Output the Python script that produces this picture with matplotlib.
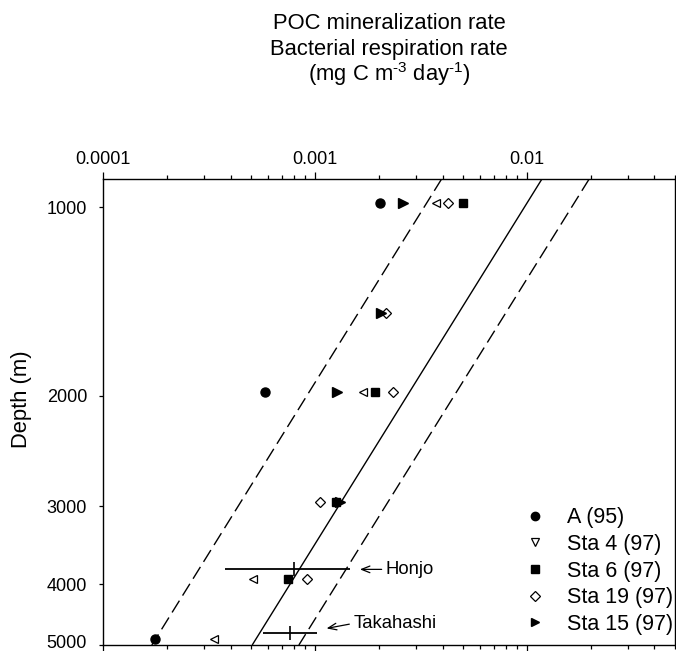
import matplotlib
matplotlib.use("Agg")
import matplotlib.pyplot as plt
from matplotlib.lines import Line2D
from matplotlib.transforms import ScaledTranslation
from matplotlib.ticker import FixedLocator, FixedFormatter, LogLocator, NullLocator, NullFormatter

plt.rcParams['font.family'] = ['Liberation Sans', 'DejaVu Sans']
plt.rcParams['mathtext.fontset'] = 'custom'
plt.rcParams['mathtext.rm'] = 'Liberation Sans'
plt.rcParams['mathtext.it'] = 'Liberation Sans:italic'

# ---------------- data ----------------
a95_rate = [0.00203, 0.000581, 0.000175]
a95_depth = [985, 1973, 4897]

sta4_rate = [0.00371, 0.00169, 0.000512, 0.000334]
sta4_depth = [985, 1973, 3925, 4897]

sta6_rate = [0.00501, 0.00192, 0.00126, 0.000744]
sta6_depth = [985, 1973, 2953, 3925]

sta19_rate = [0.00425, 0.00216, 0.00233, 0.00106, 0.000914]
sta19_depth = [985, 1477, 1973, 2953, 3925]

sta15_rate = [0.00261, 0.00205, 0.00127, 0.00131]
sta15_depth = [985, 1477, 1973, 2953]

# literature estimates (centre, min, max, depth)
honjo = dict(rate=0.000797, rmin=0.000376, rmax=0.00146, depth=3786)
takahashi = dict(rate=0.000762, rmin=0.000570, rmax=0.00102, depth=4782)

# model lines (end points on the log-log axes)
line_depth = [901, 5000]
line_solid = [0.01178, 0.000506]
line_dash_low = [0.00396, 0.000170]
line_dash_high = [0.01968, 0.000840]

x_ticks = [0.0001, 0.001, 0.01]
x_tick_labels = ['0.0001', '0.001', '0.01']
y_ticks = [1000, 2000, 3000, 4000, 5000]
y_tick_labels = ['1000', '2000', '3000', '4000', '5000']

# ---------------- figure ----------------
W, H = 676, 651
fig = plt.figure(figsize=(W / 100, H / 100), dpi=100)
ax = fig.add_axes([103 / W, 6 / H, 572 / W, 466 / H])
ax.set_xscale('log')
ax.set_yscale('log')
ax.set_xlim(1e-4, 5e-2)
ax.set_ylim(5000, 901)

lw = 1.0
ax.plot(line_solid, line_depth, color='k', lw=lw, solid_capstyle='butt')
ax.plot(line_dash_low, line_depth, color='k', lw=lw, linestyle=(0, (10, 4.3)))
ax.plot(line_dash_high, line_depth, color='k', lw=lw, linestyle=(0, (10, 4.3)))

mew = 0.9
ax.plot(a95_rate, a95_depth, 'o', ms=6.5, color='k', mec='k', linestyle='none')
ax.plot(sta4_rate, sta4_depth, '<', ms=6.0, mfc='white', mec='k', mew=mew, linestyle='none')
ax.plot(sta6_rate, sta6_depth, 's', ms=5.6, color='k', linestyle='none')
ax.plot(sta19_rate, sta19_depth, 'D', ms=5.4, mfc='white', mec='k', mew=mew, linestyle='none')
ax.plot(sta15_rate, sta15_depth, '>', ms=6.5, color='k', linestyle='none')

for d in (honjo, takahashi):
    ax.errorbar([d['rate']], [d['depth']],
                xerr=[[d['rate'] - d['rmin']], [d['rmax'] - d['rate']]],
                fmt='|', ms=9.5, mew=1.2, color='k', elinewidth=1.3, capsize=0)

arrow = dict(arrowstyle='->, head_length=0.45, head_width=0.18', color='k', lw=0.9,
             shrinkA=1, shrinkB=0, relpos=(0, 0.5))
ax.annotate('Honjo', xy=(0.00163, 3786), xytext=(0.00216, 3786),
            ha='left', va='center', fontsize=13.3, arrowprops=arrow)
ax.annotate('Takahashi', xy=(0.001135, 4704), xytext=(0.00152, 4618),
            ha='left', va='center', fontsize=13.3, arrowprops=arrow)

# axes styling
ax.xaxis.set_major_locator(FixedLocator(x_ticks))
ax.xaxis.set_major_formatter(FixedFormatter(x_tick_labels))
ax.xaxis.set_minor_locator(LogLocator(base=10, subs=[2, 3, 4, 5, 6, 7, 8, 9], numticks=20))
ax.xaxis.set_minor_formatter(NullFormatter())
ax.yaxis.set_major_locator(FixedLocator(y_ticks))
ax.yaxis.set_major_formatter(FixedFormatter(y_tick_labels))
ax.yaxis.set_minor_locator(NullLocator())

ax.tick_params(axis='x', which='both', top=True, bottom=True, labeltop=True, labelbottom=False,
               direction='out', width=0.9)
ax.tick_params(axis='x', which='major', length=5, pad=3, labelsize=13)
ax.tick_params(axis='x', which='minor', length=3)
ax.tick_params(axis='y', which='major', left=True, right=False, direction='out',
               length=3, width=0.9, pad=8.5, labelsize=13)
for s in ax.spines.values():
    s.set_linewidth(1.0)

# nudge the bottom tick label up a little so it stays inside the picture
fig.canvas.draw()
lab = ax.yaxis.get_majorticklabels()[-1]
lab.set_transform(lab.get_transform() + ScaledTranslation(0, 2.5 / 72, fig.dpi_scale_trans))

ax.set_ylabel('Depth (m)', fontsize=15.8, va='center')
ax.yaxis.set_label_coords(-0.142, 0.528)

# title (three lines above the top axis)
cx = 389 / W
fig.text(cx, 1 - 29 / H, 'POC mineralization rate', ha='center', va='baseline', fontsize=15.8)
fig.text(cx, 1 - 55 / H, 'Bacterial respiration rate', ha='center', va='baseline', fontsize=15.8)
fig.text(cx, 1 - 81 / H, r'(mg C m$^{\mathrm{\text{-}3}}$ day$^{\mathrm{\text{-}1}}$)',
         ha='center', va='baseline', fontsize=15.8)

# legend
handles = [
    Line2D([], [], marker='o', ms=6, color='k', linestyle='none', label='A (95)'),
    Line2D([], [], marker='v', ms=5.5, mfc='white', mec='k', mew=mew, linestyle='none', label='Sta 4 (97)'),
    Line2D([], [], marker='s', ms=5.3, color='k', linestyle='none', label='Sta 6 (97)'),
    Line2D([], [], marker='D', ms=5.0, mfc='white', mec='k', mew=mew, linestyle='none', label='Sta 19 (97)'),
    Line2D([], [], marker='>', ms=6.0, color='k', linestyle='none', label='Sta 15 (97)'),
]
ax.legend(handles=handles, loc='center left', bbox_to_anchor=((524 - 103) / 572, (645 - 571) / 466),
          frameon=False, fontsize=15.5, handlelength=1.0, handletextpad=1.0,
          labelspacing=0.26, borderpad=0, borderaxespad=0)

fig.savefig('out.png', dpi=100)
